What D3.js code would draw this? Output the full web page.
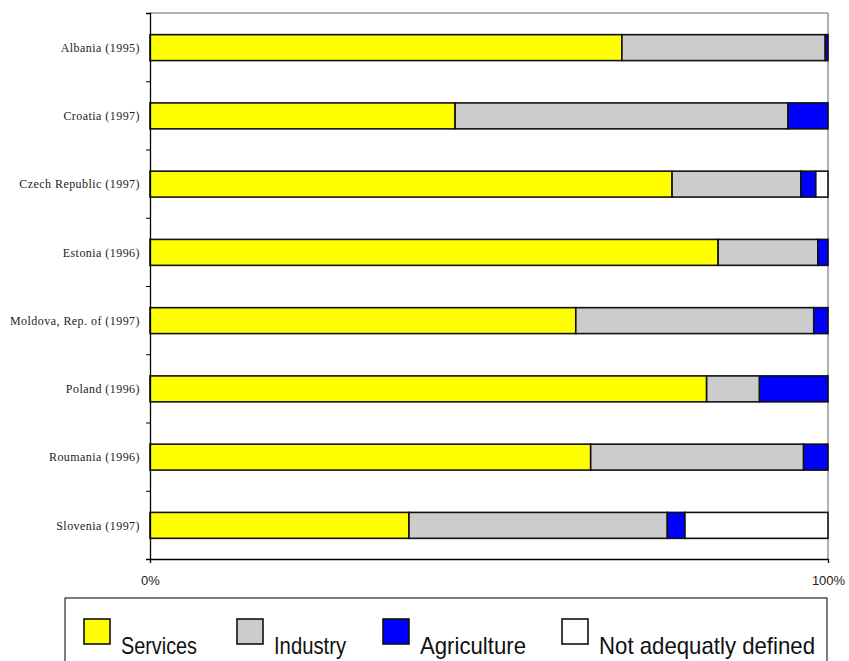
<!DOCTYPE html>
<html>
<head>
<meta charset="utf-8">
<script src="https://cdn.jsdelivr.net/npm/d3@7/dist/d3.min.js"></script>
<style>
  html, body { margin: 0; padding: 0; background: #fff; }
  svg { display: block; }
</style>
</head>
<body>
<svg id="chart" width="849" height="661"></svg>
<script>
// Employment by sector, share of total (%)
const countries = [
  "Albania (1995)", "Croatia (1997)", "Czech Republic (1997)", "Estonia (1996)",
  "Moldova, Rep. of (1997)", "Poland (1996)", "Roumania (1996)", "Slovenia (1997)"
];
const services    = [69.6, 45.0, 77.0, 83.8, 62.8, 82.1, 65.0, 38.2];
const industry    = [30.0, 49.1, 19.0, 14.7, 35.1,  7.8, 31.4, 38.1];
const agriculture = [ 0.4,  5.9,  2.2,  1.5,  2.1, 10.1,  3.6,  2.6];
const notDefined  = [ 0.0,  0.0,  1.8,  0.0,  0.0,  0.0,  0.0, 21.1];

const seriesNames = ["Services", "Industry", "Agriculture", "Not adequatly defined"];
const seriesColors = ["#ffff00", "#cccccc", "#0000ff", "#ffffff"];
const xTicks = [0, 1];

const rows = countries.map((c, i) => ({
  country: c,
  "Services": services[i],
  "Industry": industry[i],
  "Agriculture": agriculture[i],
  "Not adequatly defined": notDefined[i]
}));

const svg = d3.select("#chart");
const plotLeft = 150, plotRight = 828, plotTop = 13, plotBottom = 559;

const x = d3.scaleLinear().domain([0, 1]).range([plotLeft, plotRight]);
const y = d3.scaleBand().domain(countries).range([plotTop, plotBottom])
  .paddingInner(0.62).paddingOuter(0.31);
const yEdge = d3.scaleLinear().domain([0, countries.length]).range([plotTop, plotBottom]);
const color = d3.scaleOrdinal().domain(seriesNames).range(seriesColors);

// frame: top and right borders in grey
svg.append("line").attr("x1", plotLeft).attr("x2", plotRight).attr("y1", plotTop).attr("y2", plotTop)
  .attr("stroke", "#999").attr("stroke-width", 1.5);
svg.append("line").attr("x1", plotRight).attr("x2", plotRight).attr("y1", plotTop).attr("y2", plotBottom)
  .attr("stroke", "#999").attr("stroke-width", 1.5);

// stacked shares, normalised per row
const stacked = d3.stack().keys(seriesNames).offset(d3.stackOffsetExpand)(rows);

svg.append("g").selectAll("g")
  .data(stacked)
  .join("g")
  .attr("fill", d => color(d.key))
  .selectAll("rect")
  .data(d => d)
  .join("rect")
  .attr("x", d => x(d[0]))
  .attr("y", d => y(d.data.country) + 0.5)
  .attr("width", d => Math.max(0, x(d[1]) - x(d[0])))
  .attr("height", y.bandwidth())
  .attr("stroke", "#111")
  .attr("stroke-width", 1.6);

// left axis: ticks at row boundaries
const yAxis = svg.append("g")
  .attr("transform", `translate(${plotLeft},0)`)
  .call(d3.axisLeft(yEdge).tickValues(d3.range(countries.length + 1)).tickSize(4).tickFormat(""));
yAxis.select(".domain").attr("stroke", "#000").attr("stroke-width", 1.3);
yAxis.selectAll(".tick line").attr("stroke", "#000");

// category labels
svg.append("g").selectAll("text")
  .data(countries)
  .join("text")
  .attr("x", 140)
  .attr("y", d => y(d) + y.bandwidth() / 2 + 0.5)
  .attr("dy", "0.35em")
  .attr("text-anchor", "end")
  .attr("font-family", "'Liberation Serif', 'Times New Roman', serif")
  .attr("font-size", 12)
  .attr("letter-spacing", "0.45px")
  .attr("fill", "#222")
  .text(d => d);

// bottom axis
const xAxis = svg.append("g")
  .attr("transform", `translate(0,${plotBottom})`)
  .call(d3.axisBottom(x).tickValues(xTicks).tickSize(4).tickPadding(13).tickFormat(d3.format(".0%")));
xAxis.select(".domain").attr("stroke", "#000").attr("stroke-width", 1.3);
xAxis.selectAll(".tick line").attr("stroke", "#000");
xAxis.selectAll("text")
  .attr("font-family", "'Liberation Sans', Arial, sans-serif")
  .attr("font-size", 13)
  .attr("fill", "#222");

// legend
const legend = svg.append("g");
legend.append("rect")
  .attr("x", 65).attr("y", 598).attr("width", 762).attr("height", 90)
  .attr("fill", "#fff").attr("stroke", "#000").attr("stroke-width", 1);

const legendSwatchX = [84, 237, 383, 562];
const legendTextW = [76, 72, 106, 216];
const items = legend.selectAll("g.item")
  .data(seriesNames)
  .join("g")
  .attr("class", "item")
  .attr("transform", (d, i) => `translate(${legendSwatchX[i]},619)`);
items.append("rect")
  .attr("width", 26).attr("height", 25)
  .attr("fill", d => color(d))
  .attr("stroke", "#111").attr("stroke-width", 1.6);
items.append("text")
  .attr("x", 37).attr("y", 34.5)
  .attr("font-family", "'Liberation Sans', Arial, sans-serif")
  .attr("font-size", 24)
  .attr("fill", "#111")
  .attr("textLength", (d, i) => legendTextW[i])
  .attr("lengthAdjust", "spacingAndGlyphs")
  .text(d => d);
</script>
</body>
</html>
